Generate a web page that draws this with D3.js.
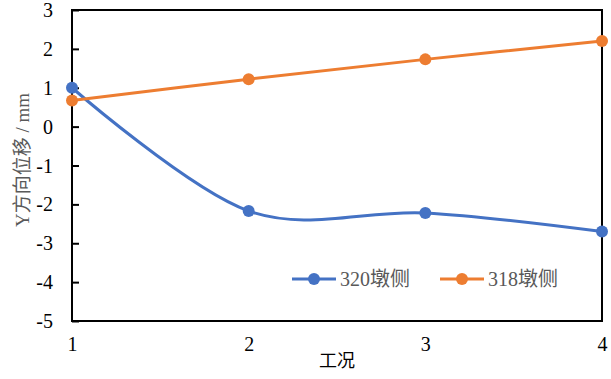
<!DOCTYPE html>
<html><head><meta charset="utf-8">
<script src="https://cdn.jsdelivr.net/npm/d3@7"></script>
<style>body{margin:0;background:#fff}</style>
</head><body>
<script>
const categories = [1, 2, 3, 4];
const series320 = [1.0, -2.17, -2.22, -2.7];
const series318 = [0.67, 1.22, 1.73, 2.2];
const yTicks = [3, 2, 1, 0, -1, -2, -3, -4, -5];
const seriesNames = ["320墩侧", "318墩侧"];
const colors = ["#4472C4", "#ED7D31"];

const W = 611, H = 379;
const m = {l: 72, r: 9, t: 10, b: 58};
const FONT = '"Liberation Serif", "Noto Sans CJK SC"';
const svg = d3.select("body").append("svg").attr("width", W).attr("height", H);
const x = d3.scaleLinear().domain([1, 4]).range([m.l, W - m.r]);
const y = d3.scaleLinear().domain([-5, 3]).range([H - m.b, m.t]);
const fmt = d => String(d);

// Y axis
const ya = svg.append("g").attr("transform", `translate(${m.l},0)`)
  .call(d3.axisRight(y).tickValues(yTicks).tickSize(7).tickFormat(fmt));
ya.select(".domain").remove();
ya.selectAll("line").attr("stroke", "#000").attr("stroke-width", 2);
ya.selectAll("text").attr("x", -19).attr("text-anchor", "end").attr("dy", "0.33em")
  .style("font-family", FONT).style("font-size", "20px").attr("fill", "#000");

// X axis labels
const xa = svg.append("g").attr("transform", `translate(0,${H - m.b})`)
  .call(d3.axisBottom(x).tickValues(categories).tickSize(0).tickFormat(fmt));
xa.select(".domain").remove();
xa.selectAll("text").attr("y", 16).attr("dy", "0.71em")
  .style("font-family", FONT).style("font-size", "20px").attr("fill", "#000");

// Frame
svg.append("rect").attr("x", m.l).attr("y", m.t).attr("width", W - m.r - m.l).attr("height", H - m.b - m.t)
  .attr("fill", "none").attr("stroke", "#000").attr("stroke-width", 2);

// Lines
const line = d3.line().x((d, i) => x(categories[i])).y(d => y(d)).curve(d3.curveCardinal.tension(0));
[series320, series318].forEach((s, k) => {
  svg.append("path").datum(s).attr("d", line).attr("fill", "none")
    .attr("stroke", colors[k]).attr("stroke-width", 3);
  svg.selectAll(null).data(s).enter().append("circle")
    .attr("cx", (d, i) => x(categories[i])).attr("cy", d => y(d)).attr("r", 6).attr("fill", colors[k]);
});

// Axis titles
svg.append("text").attr("x", (m.l + W - m.r) / 2).attr("y", 367).attr("text-anchor", "middle")
  .style("font-family", FONT).style("font-size", "18px").attr("fill", "#000").text("工况");
svg.append("text").attr("transform", "translate(29,160) rotate(-90)").attr("text-anchor", "middle")
  .style("font-family", FONT).style("font-size", "19px").attr("fill", "#595959").text("Y方向位移 / mm");

// Legend
const lx = [292, 440];
seriesNames.forEach((n, k) => {
  const g = svg.append("g").attr("transform", `translate(${lx[k]},279)`);
  g.append("line").attr("x1", 0).attr("x2", 44).attr("stroke", colors[k]).attr("stroke-width", 3);
  g.append("circle").attr("cx", 22).attr("r", 6).attr("fill", colors[k]);
  g.append("text").attr("x", 48).attr("dy", "0.35em")
    .style("font-family", FONT).style("font-size", "20px").attr("fill", "#595959").text(n);
});
</script>
</body></html>
